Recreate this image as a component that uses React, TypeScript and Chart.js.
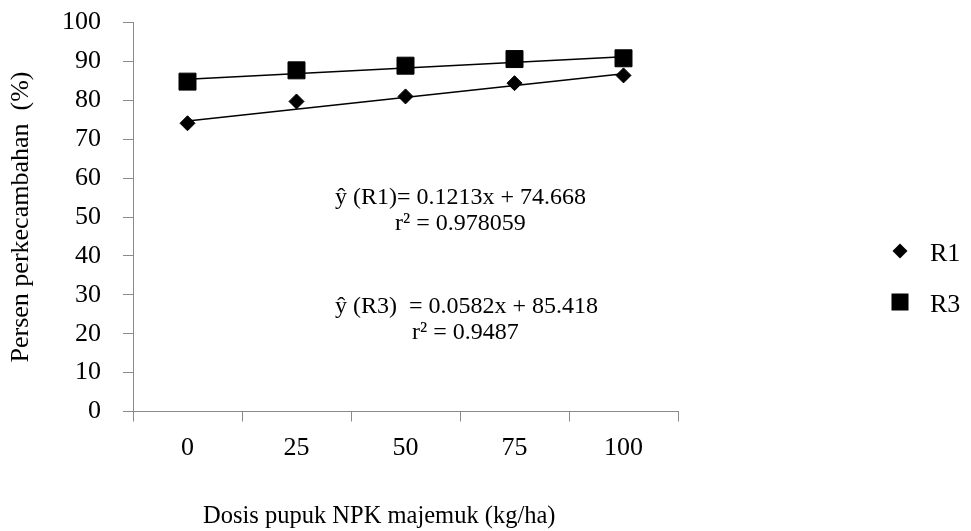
import { useEffect, useRef } from "react";
import { Chart, registerables } from "chart.js";

Chart.register(...registerables);

const categories = ["0", "25", "50", "75", "100"];
const seriesNames = ["R1", "R3"];
const r1Values = [74.1, 79.7, 81.0, 84.4, 86.4];
const r3Values = [84.8, 87.7, 88.9, 90.6, 90.8];
const r1Trend = [74.7, null, null, null, 86.8];
const r3Trend = [85.4, null, null, null, 91.2];
const yMin = 0;
const yMax = 100;
const yStep = 10;
const xTitle = "Dosis pupuk NPK majemuk (kg/ha)";
const yTitle = "Persen perkecambahan  (%)";
const equationLines = [
  "ŷ (R1)= 0.1213x + 74.668",
  "r² = 0.978059",
  "ŷ (R3)  = 0.0582x + 85.418",
  "r² = 0.9487",
];

const FONT = "'Liberation Serif', 'Times New Roman', serif";
const AXIS_GRAY = "#8a8a8a";

const overlayPlugin = {
  id: "overlay",
  afterDraw(chart: any) {
    const ctx = chart.ctx;
    ctx.save();
    ctx.fillStyle = "#000";
    // equations
    ctx.font = `24px ${FONT}`;
    ctx.textAlign = "left";
    ctx.textBaseline = "alphabetic";
    const eqPos = [
      [335, 204],
      [395, 230],
      [335, 313],
      [412, 339],
    ];
    equationLines.forEach((t, i) => ctx.fillText(t, eqPos[i][0], eqPos[i][1]));

    // x title
    ctx.font = `24.5px ${FONT}`;
    ctx.fillText(xTitle, 203, 523);

    // legend
    const lx = 900;
    const ly = [251, 302];
    ctx.beginPath();
    ctx.moveTo(lx - 7.5, ly[0]);
    ctx.lineTo(lx, ly[0] - 7.5);
    ctx.lineTo(lx + 7.5, ly[0]);
    ctx.lineTo(lx, ly[0] + 7.5);
    ctx.closePath();
    ctx.fill();
    ctx.fillRect(lx - 8.5, ly[1] - 8.5, 17, 17);
    ctx.font = `26px ${FONT}`;
    ctx.fillText(seriesNames[0], 930, ly[0] + 10);
    ctx.fillText(seriesNames[1], 930, ly[1] + 10);
    ctx.restore();
  },
};

export default function App() {
  const ref = useRef<HTMLCanvasElement | null>(null);

  useEffect(() => {
    document.body.style.margin = "0";
    const canvas = ref.current;
    if (!canvas) return;
    const chart = new Chart(canvas, {
      type: "line",
      data: {
        labels: categories,
        datasets: [
          {
            label: "R1 trend",
            data: r1Trend,
            borderColor: "#000",
            borderWidth: 1.5,
            pointRadius: 0,
            spanGaps: true,
            fill: false,
          },
          {
            label: "R3 trend",
            data: r3Trend,
            borderColor: "#000",
            borderWidth: 1.5,
            pointRadius: 0,
            spanGaps: true,
            fill: false,
          },
          {
            label: seriesNames[0],
            data: r1Values,
            showLine: false,
            pointStyle: "rectRot",
            pointRadius: 7.5,
            pointBackgroundColor: "#000",
            pointBorderColor: "#000",
            pointBorderWidth: 1,
          },
          {
            label: seriesNames[1],
            data: r3Values,
            showLine: false,
            pointStyle: "rect",
            pointRadius: 12,
            pointBackgroundColor: "#000",
            pointBorderColor: "#000",
            pointBorderWidth: 1,
          },
        ],
      },
      options: {
        animation: false,
        responsive: false,
        events: [],
        layout: { padding: { left: 0, right: 293, top: 22.5, bottom: 0 } },
        plugins: {
          legend: { display: false },
          tooltip: { enabled: false },
        },
        scales: {
          x: {
            type: "category",
            offset: true,
            grid: {
              offset: true,
              drawOnChartArea: false,
              drawTicks: true,
              tickLength: 10,
              color: AXIS_GRAY,
            },
            border: { color: AXIS_GRAY, width: 1 },
            ticks: {
              color: "#000",
              font: { family: FONT, size: 26 },
              padding: 11,
              maxRotation: 0,
            },
            afterFit: (s: any) => {
              s.height = 119.5;
              s.paddingLeft = 0;
              s.paddingRight = 0;
            },
          },
          y: {
            min: yMin,
            max: yMax,
            ticks: {
              stepSize: yStep,
              color: "#000",
              font: { family: FONT, size: 26 },
              padding: 22,
            },
            grid: {
              drawOnChartArea: false,
              drawTicks: true,
              tickLength: 10,
              color: AXIS_GRAY,
            },
            border: { color: AXIS_GRAY, width: 1 },
            title: {
              display: true,
              text: yTitle,
              color: "#000",
              font: { family: FONT, size: 26 },
              padding: { top: 6, bottom: 0 },
            },
            afterFit: (s: any) => {
              s.width = 133;
              s.paddingTop = 0;
              s.paddingBottom = 0;
            },
          },
        },
      },
      plugins: [overlayPlugin],
    });
    return () => chart.destroy();
  }, []);

  return (
    <canvas
      ref={ref}
      width={971}
      height={531}
      style={{ display: "block", width: 971, height: 531 }}
    />
  );
}
